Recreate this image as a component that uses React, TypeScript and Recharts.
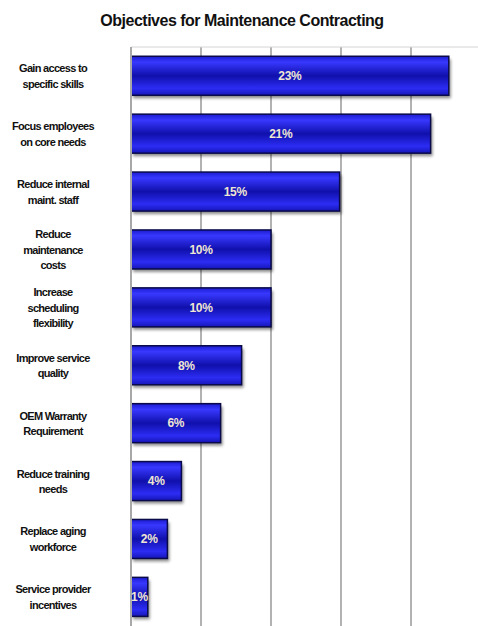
import { BarChart, Bar, XAxis, YAxis, CartesianGrid, LabelList } from "recharts";

const categories = [
  "Gain access to\nspecific skills",
  "Focus employees\non core needs",
  "Reduce internal\nmaint. staff",
  "Reduce\nmaintenance\ncosts",
  "Increase\nscheduling\nflexibility",
  "Improve service\nquality",
  "OEM Warranty\nRequirement",
  "Reduce training\nneeds",
  "Replace aging\nworkforce",
  "Service provider\nincentives",
];
const shares = [22.7, 21.4, 14.9, 10, 10, 7.9, 6.4, 3.6, 2.6, 1.2];
const shareLabels = ["23%", "21%", "15%", "10%", "10%", "8%", "6%", "4%", "2%", "1%"];
const xTicks = [0, 5, 10, 15, 20, 25];

const data = categories.map((name, i) => ({ name, share: shares[i], label: shareLabels[i] }));

const font = "'Liberation Sans', Arial, sans-serif";

function CategoryTick({ x, y, payload }: any) {
  const lines = String(payload.value).split("\n");
  const lh = 15.5;
  const start = y - ((lines.length - 1) * lh) / 2;
  const cx = x - 70;
  return (
    <text
      x={cx}
      y={start}
      textAnchor="middle"
      dominantBaseline="central"
      fontFamily={font}
      fontSize={11}
      fontWeight={700}
      letterSpacing={-0.7}
      fill="#111"
    >
      {lines.map((l, i) => (
        <tspan key={i} x={cx} y={start + i * lh}>
          {l}
        </tspan>
      ))}
    </text>
  );
}

function TubeBar({ x, y, width, height }: any) {
  if (!width || width <= 0) return null;
  return (
    <g>
      <rect x={x + 2} y={y + 3} width={width} height={height} fill="#000" opacity={0.45} filter="url(#barShadow)" />
      <rect x={x} y={y} width={width} height={height} fill="url(#tube)" stroke="#0a0a4a" strokeWidth={1.5} />
    </g>
  );
}

export default function App() {
  return (
    <div style={{ position: "absolute", top: 0, left: 0, width: 478, height: 626, background: "#fff" }}>
      <div
        style={{
          position: "absolute",
          top: 12,
          left: 0,
          width: 484,
          textAlign: "center",
          fontFamily: font,
          fontWeight: 700,
          fontSize: 16,
          letterSpacing: -0.5,
          color: "#111",
        }}
      >
        Objectives for Maintenance Contracting
      </div>
      <BarChart
        width={478}
        height={626}
        data={data}
        layout="vertical"
        margin={{ top: 47, right: -3, bottom: 0, left: 0 }}
        barCategoryGap="16%"
      >
        <defs>
          <linearGradient id="tube" x1="0" y1="0" x2="0" y2="1">
            <stop offset="0%" stopColor="#1c1cd0" />
            <stop offset="15%" stopColor="#3838ff" />
            <stop offset="50%" stopColor="#1010ac" />
            <stop offset="82%" stopColor="#2c2cf4" />
            <stop offset="100%" stopColor="#1616b8" />
          </linearGradient>
          <filter id="barShadow" x="-20%" y="-20%" width="140%" height="140%">
            <feGaussianBlur stdDeviation="1.5" />
          </filter>
        </defs>
        <CartesianGrid horizontal={false} stroke="#b2b2b2" strokeWidth={2} />
        <CartesianGrid
          vertical={false}
          horizontalCoordinatesGenerator={({ offset }: any) => [offset.top]}
          stroke="#d4d4d4"
          strokeWidth={1}
        />
        <XAxis type="number" domain={[0, 25]} ticks={xTicks} hide />
        <YAxis
          type="category"
          dataKey="name"
          width={131}
          tick={<CategoryTick />}
          tickLine={false}
          axisLine={{ stroke: "#a8a8a8", strokeWidth: 2 }}
          interval={0}
        />
        <Bar dataKey="share" shape={<TubeBar />} isAnimationActive={false}>
          <LabelList
            dataKey="label"
            position="center"
            fill="#efe6d4"
            fontFamily={font}
            fontSize={12}
            fontWeight={700}
            letterSpacing={-0.3}
          />
        </Bar>
      </BarChart>
    </div>
  );
}
